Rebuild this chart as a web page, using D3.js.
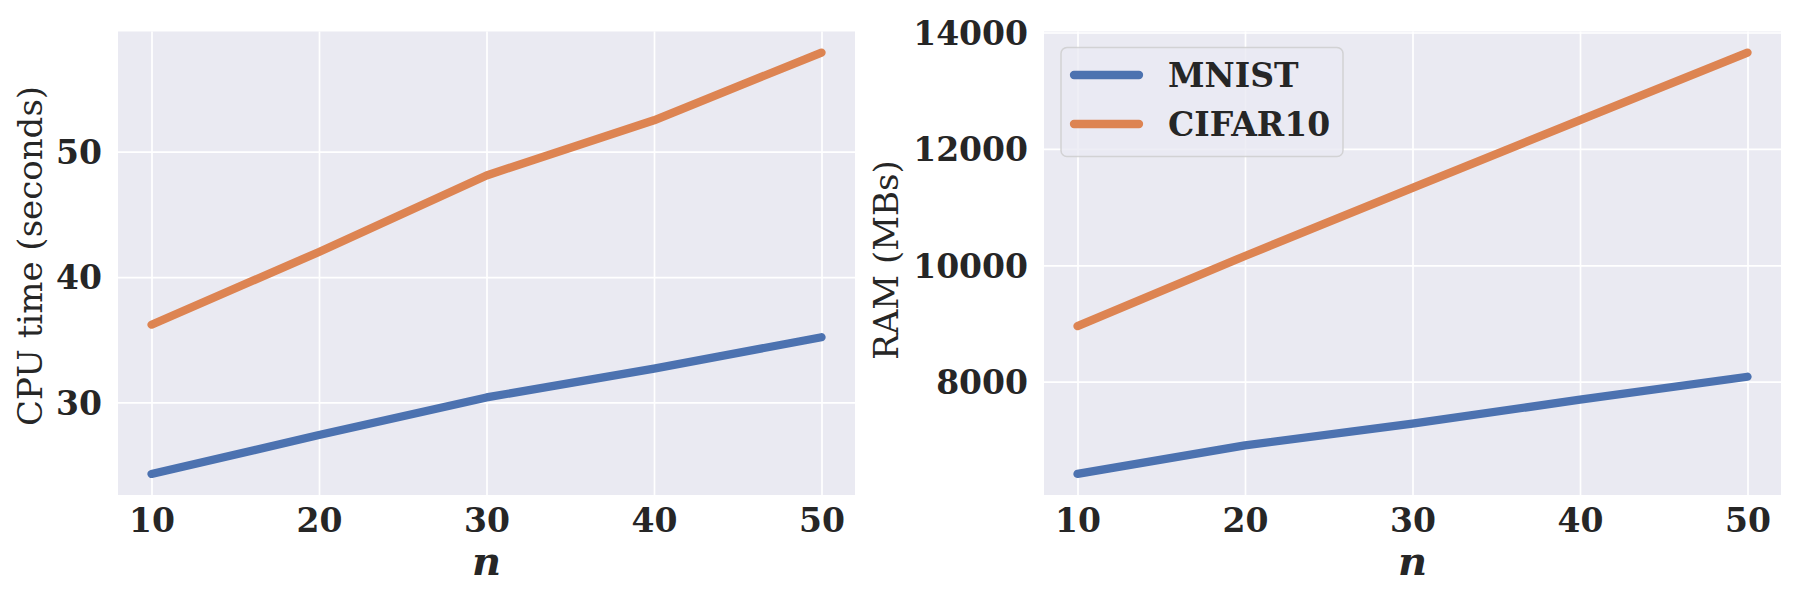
<!DOCTYPE html>
<html>
<head>
<meta charset="utf-8">
<script src="https://cdn.jsdelivr.net/npm/d3@7"></script>
<style>
  body { margin: 0; background: #fff; }
  text { font-family: "DejaVu Serif", serif; fill: #262626; }
</style>
</head>
<body>
<div id="wrapper"></div>
<script>
const nValues = [10, 20, 30, 40, 50];
const seriesNames = ["MNIST", "CIFAR10"];
const cpuMnist = [24.3, 27.4, 30.4, 32.7, 35.2];
const cpuCifar = [36.2, 42.0, 48.1, 52.5, 57.9];
const ramMnist = [6415, 6905, 7280, 7690, 8085];
const ramCifar = [8955, 10160, 11330, 12495, 13655];
const xTicks = [10, 20, 30, 40, 50];
const cpuTicks = [30, 40, 50];
const ramTicks = [8000, 10000, 12000, 14000];

const colors = ["#4c72b0", "#dd8452"];

const width = 1800;
const height = 600;

const svg = d3.select("#wrapper")
    .append("svg")
    .attr("width", width)
    .attr("height", height);

// matplotlib style 5% padding
function padded(ext) {
    const pad = (ext[1] - ext[0]) * 0.05;
    return [ext[0] - pad, ext[1] + pad];
}

function panel(opts) {
    const { left, right, top, bottom, series, yTicks, yLabel, labelX, labelY, legend } = opts;

    const xScale = d3.scaleLinear()
        .domain(padded(d3.extent(nValues)))
        .range([left, right]);

    const yScale = d3.scaleLinear()
        .domain(padded(d3.extent(series.flat())))
        .range([bottom, top]);

    svg.append("rect")
        .attr("x", left)
        .attr("y", top)
        .attr("width", right - left)
        .attr("height", bottom - top)
        .attr("fill", "#eaeaf2");

    // grid
    const xAxis = svg.append("g")
        .attr("transform", `translate(0,${bottom})`)
        .call(d3.axisBottom(xScale).tickValues(xTicks).tickSize(-(bottom - top)).tickPadding(14).tickFormat(d3.format("d")));
    const yAxis = svg.append("g")
        .attr("transform", `translate(${left},0)`)
        .call(d3.axisLeft(yScale).tickValues(yTicks).tickSize(-(right - left)).tickPadding(16).tickFormat(d3.format("d")));

    [xAxis, yAxis].forEach(ax => {
        ax.select(".domain").remove();
        ax.selectAll(".tick line").attr("stroke", "#fff").attr("stroke-width", 1.7);
        ax.selectAll(".tick text")
            .attr("font-family", "DejaVu Serif")
            .attr("font-weight", "bold")
            .attr("font-size", 33)
            .attr("fill", "#262626");
    });
    xAxis.selectAll(".tick text").attr("dy", "0.71em");
    yAxis.selectAll(".tick text").attr("dy", "0.36em");

    const line = d3.line()
        .x((d, i) => xScale(nValues[i]))
        .y(d => yScale(d));

    series.forEach((s, k) => {
        svg.append("path")
            .datum(s)
            .attr("d", line)
            .attr("fill", "none")
            .attr("stroke", colors[k])
            .attr("stroke-width", 8.3)
            .attr("stroke-linecap", "round")
            .attr("stroke-linejoin", "round");
    });

    svg.append("text")
        .attr("transform", `translate(${labelX},${labelY}) rotate(-90)`)
        .attr("text-anchor", "middle")
        .attr("font-size", 34)
        .text(yLabel);

    svg.append("text")
        .attr("x", (left + right) / 2)
        .attr("y", 575)
        .attr("text-anchor", "middle")
        .attr("font-family", "DejaVu Sans")
        .attr("font-size", 40)
        .attr("font-weight", "bold")
        .attr("font-style", "italic")
        .text("n");

    if (legend) {
        const lg = svg.append("g");
        lg.append("rect")
            .attr("x", 1061)
            .attr("y", 47.5)
            .attr("width", 282)
            .attr("height", 109)
            .attr("rx", 6)
            .attr("fill", "rgba(234,234,242,0.8)")
            .attr("stroke", "#cccccc")
            .attr("stroke-opacity", 0.8)
            .attr("stroke-width", 1.5);
        seriesNames.forEach((name, k) => {
            const yy = 75 + k * 49;
            lg.append("line")
                .attr("x1", 1074)
                .attr("x2", 1139)
                .attr("y1", yy)
                .attr("y2", yy)
                .attr("stroke", colors[k])
                .attr("stroke-width", 8.3)
                .attr("stroke-linecap", "round");
            lg.append("text")
                .attr("x", 1168)
                .attr("y", yy + 12)
                .attr("font-size", 33)
                .attr("font-weight", "bold")
                .text(name);
        });
    }
}

panel({
    left: 118, right: 855, top: 31.5, bottom: 495,
    series: [cpuMnist, cpuCifar],
    yTicks: cpuTicks,
    yLabel: "CPU time (seconds)",
    labelX: 42, labelY: 256,
    legend: false
});

panel({
    left: 1044, right: 1781, top: 31.5, bottom: 495,
    series: [ramMnist, ramCifar],
    yTicks: ramTicks,
    yLabel: "RAM (MBs)",
    labelX: 898, labelY: 260,
    legend: true
});
</script>
</body>
</html>
